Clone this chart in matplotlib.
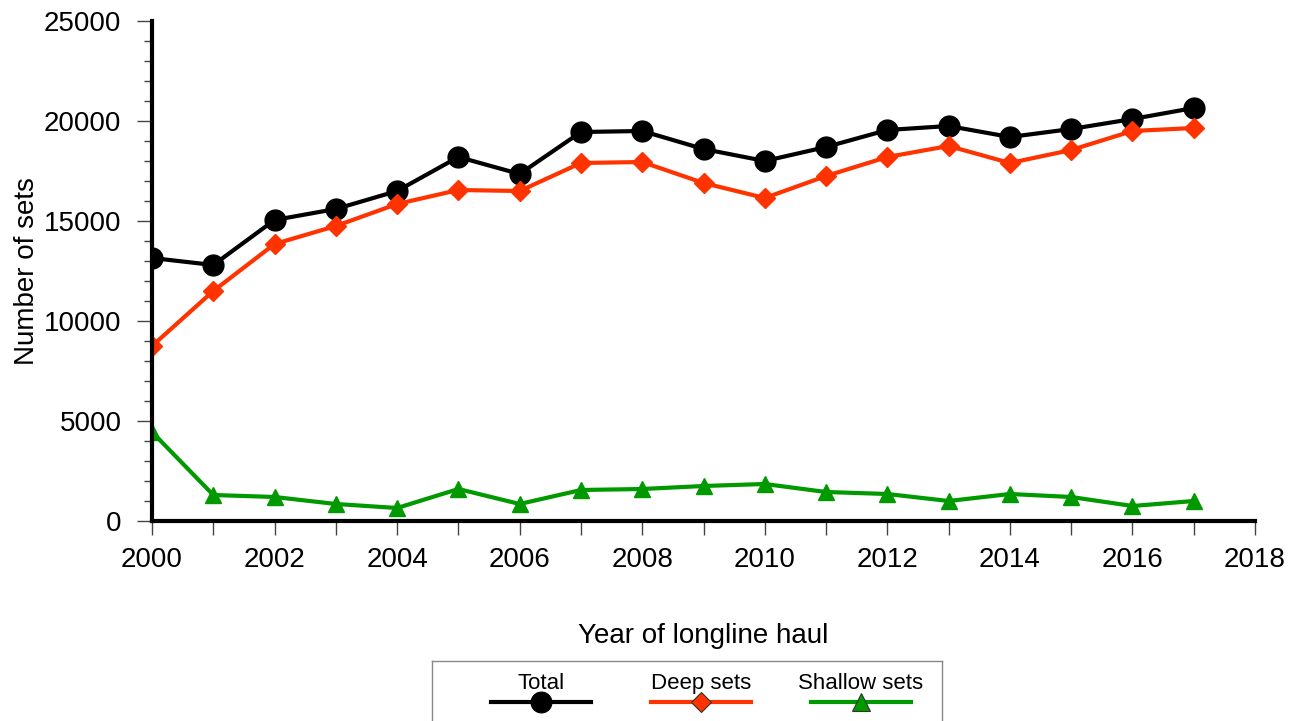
import matplotlib
matplotlib.use("Agg")
import matplotlib.pyplot as plt
from matplotlib.lines import Line2D
from matplotlib.ticker import MultipleLocator

plt.rcParams['font.family'] = ['Liberation Sans', 'DejaVu Sans']

# data
years = list(range(2000, 2018))
total = [13150, 12800, 15050, 15600, 16500, 18200, 17350, 19450, 19500,
         18600, 18000, 18700, 19550, 19750, 19200, 19600, 20100, 20650]
deep = [8750, 11500, 13850, 14750, 15850, 16550, 16500, 17900, 17950,
        16900, 16150, 17250, 18200, 18750, 17900, 18550, 19500, 19650]
shallow = [4450, 1300, 1200, 850, 650, 1600, 850, 1550, 1600,
           1750, 1850, 1450, 1350, 1000, 1350, 1200, 750, 1000]

series_names = ['Total', 'Deep sets', 'Shallow sets']
series_colors = ['black', '#ff3300', '#009900']
series_markers = ['o', 'D', '^']
series_msize = [15, 10, 11.5]

W, H = 1292, 721
fig = plt.figure(figsize=(W / 100, H / 100), dpi=100)
ax = fig.add_axes([152 / W, (H - 521) / H, (1255 - 152) / W, 500 / H])

for vals, c, m, ms in zip([total, deep, shallow], series_colors, series_markers, series_msize):
    ax.plot(years, vals, color=c, lw=3, marker=m, markersize=ms,
            markeredgecolor=c, zorder=3)

ax.set_xlim(2000, 2018)
ax.set_ylim(0, 25000)
ax.xaxis.set_major_locator(MultipleLocator(2))
ax.xaxis.set_minor_locator(MultipleLocator(1))
ax.yaxis.set_major_locator(MultipleLocator(5000))
ax.yaxis.set_minor_locator(MultipleLocator(1000))

for s in ['top', 'right']:
    ax.spines[s].set_visible(False)
for s in ['left', 'bottom']:
    ax.spines[s].set_linewidth(3)
    ax.spines[s].set_zorder(5)

ax.tick_params(axis='y', which='major', direction='out', length=11, width=1,
               color='#444444', labelsize=20, pad=11)
ax.tick_params(axis='y', which='minor', direction='out', length=6, width=1,
               color='#444444')
ax.tick_params(axis='x', which='both', direction='out', length=10, width=1,
               color='#444444', labelsize=20, pad=9)

ax.set_xlabel('Year of longline haul', fontsize=20, labelpad=36)
ax.set_ylabel('Number of sets', fontsize=20, labelpad=3)

# legend box: labels above the line samples, box runs off the bottom edge
lax = fig.add_axes([432 / W, 0, 510 / W, 60 / H])
lax.set_xlim(0, 1)
lax.set_ylim(0, 1)
lax.set_xticks([])
lax.set_yticks([])
lax.spines['bottom'].set_visible(False)
for s in ['top', 'left', 'right']:
    lax.spines[s].set_color('#888888')
    lax.spines[s].set_linewidth(1)

leg_ms = [15, 10.5, 12.5]
for i, (name, c, m) in enumerate(zip(series_names, series_colors, series_markers)):
    cx = 0.214 + i * 0.3135
    lax.add_line(Line2D([cx - 0.098, cx + 0.098], [0.317, 0.317], color=c, lw=3))
    lax.add_line(Line2D([cx], [0.317], color=c, marker=m, markersize=leg_ms[i],
                        markeredgecolor='#333333' if i else c, markeredgewidth=0.8))
    lax.text(cx, 0.62, name, ha='center', va='center', fontsize=16)

fig.savefig('out.png', dpi=100)
